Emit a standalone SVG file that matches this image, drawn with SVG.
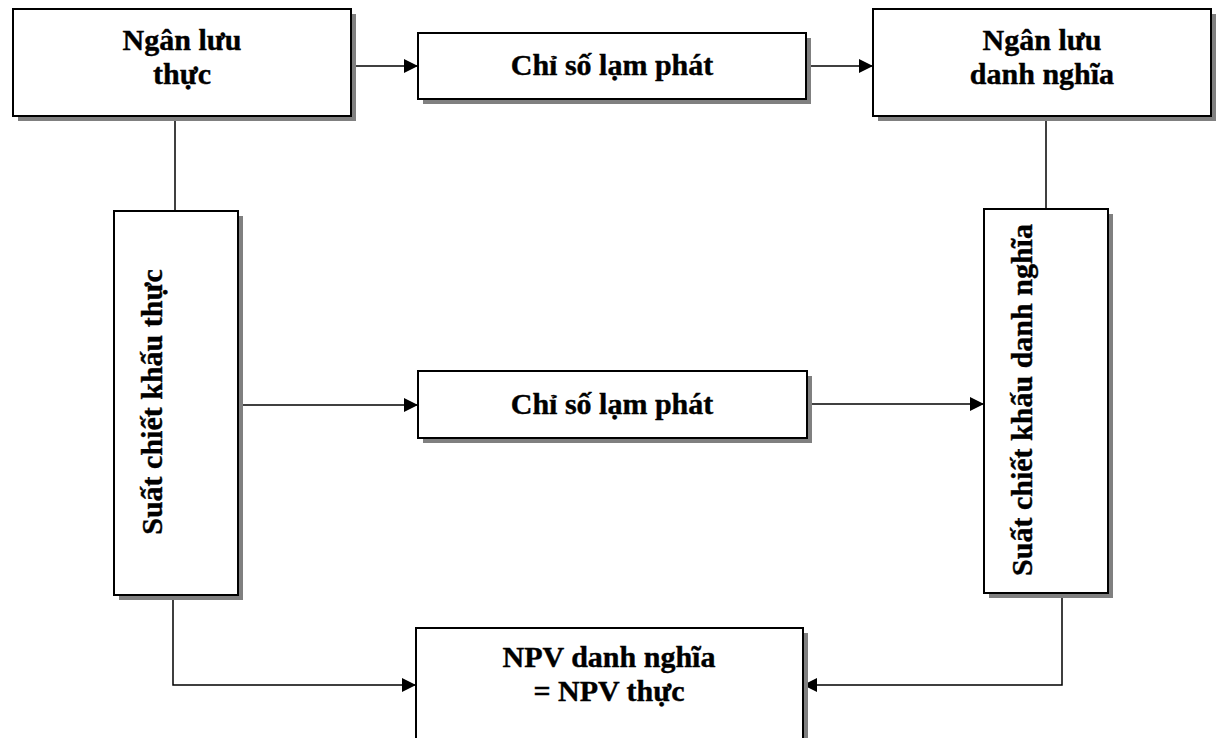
<svg xmlns="http://www.w3.org/2000/svg" width="1222" height="738" viewBox="0 0 1222 738">
<style>
.box{fill:#fff;stroke:#000;stroke-width:2}
.sh{fill:#808080}
.t{font-family:"Liberation Serif","Times New Roman",serif;font-weight:bold;font-size:30px;fill:#000;stroke:#000;stroke-width:0.4;text-anchor:middle}
.c{fill:none;stroke:#000;stroke-width:1.5}
</style>
<defs>
<marker id="ah" markerUnits="userSpaceOnUse" markerWidth="14" markerHeight="14" refX="14" refY="7" orient="auto">
<path d="M0,0 L14,7 L0,14 z" fill="#000"/>
</marker>
</defs>
<rect width="1222" height="738" fill="#fff"/>
<g id="connectors">
<line class="c" x1="175" y1="116" x2="175" y2="211"/>
<line class="c" x1="1046" y1="116" x2="1046" y2="209"/>
<line class="c" x1="351" y1="66" x2="418" y2="66" marker-end="url(#ah)"/>
<line class="c" x1="806" y1="66" x2="873" y2="66" marker-end="url(#ah)"/>
<line class="c" x1="238" y1="405" x2="418" y2="405" marker-end="url(#ah)"/>
<line class="c" x1="807" y1="404" x2="984" y2="404" marker-end="url(#ah)"/>
<polyline class="c" points="173,595 173,685 416,685" marker-end="url(#ah)"/>
<polyline class="c" points="1062,593 1062,685 803,685" marker-end="url(#ah)"/>
</g>
<g id="n1">
<rect class="sh" x="18" y="14" width="338" height="107"/>
<rect class="box" x="13" y="9" width="338" height="107"/>
<text class="t" x="182" y="50">Ngân lưu</text>
<text class="t" x="182" y="84">thực</text>
</g>
<g id="n2">
<rect class="sh" x="423" y="38" width="388" height="66"/>
<rect class="box" x="418" y="33" width="388" height="66"/>
<text class="t" x="612" y="75">Chỉ số lạm phát</text>
</g>
<g id="n3">
<rect class="sh" x="878" y="14" width="338" height="107"/>
<rect class="box" x="873" y="9" width="338" height="107"/>
<text class="t" x="1042" y="50">Ngân lưu</text>
<text class="t" x="1042" y="84">danh nghĩa</text>
</g>
<g id="n4">
<rect class="sh" x="119" y="216" width="124" height="384"/>
<rect class="box" x="114" y="211" width="124" height="384"/>
<text class="t" transform="translate(162,402) rotate(-90)">Suất chiết khấu thực</text>
</g>
<g id="n5">
<rect class="sh" x="423" y="376" width="389" height="67"/>
<rect class="box" x="418" y="371" width="389" height="67"/>
<text class="t" x="612" y="414">Chỉ số lạm phát</text>
</g>
<g id="n6">
<rect class="sh" x="989" y="214" width="124" height="384"/>
<rect class="box" x="984" y="209" width="124" height="384"/>
<text class="t" transform="translate(1032,400) rotate(-90)">Suất chiết khấu danh nghĩa</text>
</g>
<g id="n7">
<rect class="sh" x="421" y="633" width="387" height="140"/>
<rect class="box" x="416" y="628" width="387" height="140"/>
<text class="t" x="609" y="667">NPV danh nghĩa</text>
<text class="t" x="609" y="701">= NPV thực</text>
</g>
</svg>
